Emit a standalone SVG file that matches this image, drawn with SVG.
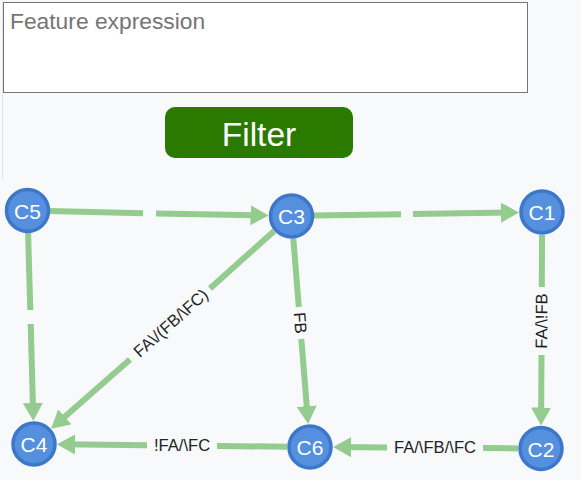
<svg xmlns="http://www.w3.org/2000/svg" width="581" height="480" viewBox="0 0 581 480">
<style>
.bg{fill:#f8f9fb}
.edge{stroke:#94cb8f;stroke-width:6;fill:none;stroke-linecap:butt}
.lbl{font-family:"Liberation Sans",Arial,sans-serif;font-size:16.6px;fill:#222;text-anchor:middle;dominant-baseline:central}
.node circle{fill:#5590df;stroke:#3c77ca;stroke-width:3.5}
.node text{font-family:"Liberation Sans",Arial,sans-serif;font-size:21px;fill:#fff;text-anchor:middle;dominant-baseline:central}
</style>
<defs>
<marker id="arr" markerUnits="userSpaceOnUse" markerWidth="18" markerHeight="20" refX="12" refY="10" orient="auto" viewBox="0 0 18 20">
<path d="M0,0 L18,10 L0,20 z" fill="#94cb8f"/>
</marker>
</defs>
<rect class="bg" x="0" y="0" width="581" height="480"/>
<line x1="2.5" y1="0" x2="2.5" y2="180" stroke="#e3e4e6" stroke-width="1"/>
<g id="input">
<rect x="3.5" y="2.5" width="524" height="90" fill="#fff" stroke="#767676" stroke-width="1"/>
<text x="10" y="29" font-family="Liberation Sans,Arial,sans-serif" font-size="22.8" fill="#757575">Feature expression</text>
</g>
<g id="filter-button">
<rect x="165" y="107" width="188" height="51" rx="10" fill="#2b7a00"/>
<text x="259" y="146" font-family="Liberation Sans,Arial,sans-serif" font-size="33.5" fill="#fff" text-anchor="middle">Filter</text>
</g>
<g id="connectors">
<line class="edge" x1="50" y1="211" x2="143" y2="213.3"/>
<line class="edge" x1="156" y1="213.6" x2="262.5" y2="215.4" marker-end="url(#arr)"/>
<line class="edge" x1="314" y1="215.6" x2="401" y2="214.3"/>
<line class="edge" x1="413" y1="214.1" x2="513" y2="212.5" marker-end="url(#arr)"/>
<line class="edge" x1="28.1" y1="233" x2="30.3" y2="310"/>
<line class="edge" x1="30.7" y1="324" x2="33.2" y2="415" marker-end="url(#arr)"/>
<line class="edge" x1="274.2" y1="230.9" x2="210" y2="288.4"/>
<line class="edge" x1="130" y1="359.4" x2="55.7" y2="424.8" marker-end="url(#arr)"/>
<text class="lbl" x="171" y="323.2" transform="rotate(-41.6 171 323.2)">FA\/(FB/\FC)</text>
<line class="edge" x1="293.3" y1="238.4" x2="298.8" y2="307"/>
<line class="edge" x1="301.3" y1="339" x2="307.7" y2="418.1" marker-end="url(#arr)"/>
<text class="lbl" x="300" y="323" transform="rotate(85.4 300 323)">FB</text>
<line class="edge" x1="542" y1="235" x2="541.8" y2="287"/>
<line class="edge" x1="541.5" y1="355" x2="541.1" y2="419.5" marker-end="url(#arr)"/>
<text class="lbl" x="541.7" y="321" transform="rotate(-89.8 541.7 321)">FA/\!FB</text>
<line class="edge" x1="518" y1="448.4" x2="483" y2="448.1"/>
<line class="edge" x1="387" y1="447.5" x2="339" y2="447.1" marker-end="url(#arr)"/>
<text class="lbl" x="435" y="447.8">FA/\FB/\FC</text>
<line class="edge" x1="287" y1="446.7" x2="217" y2="446"/>
<line class="edge" x1="147" y1="445.2" x2="63" y2="444.3" marker-end="url(#arr)"/>
<text class="lbl" x="182" y="445.6">!FA/\FC</text>
</g>
<g id="C5" class="node"><circle cx="27.5" cy="210.5" r="21"/><text x="27.5" y="211">C5</text></g>
<g id="C3" class="node"><circle cx="291.5" cy="216" r="21"/><text x="291.5" y="216.5">C3</text></g>
<g id="C1" class="node"><circle cx="542" cy="212" r="21"/><text x="542" y="212.5">C1</text></g>
<g id="C4" class="node"><circle cx="34" cy="444" r="21"/><text x="34" y="444.5">C4</text></g>
<g id="C6" class="node"><circle cx="310" cy="447" r="21"/><text x="310" y="447.5">C6</text></g>
<g id="C2" class="node"><circle cx="541" cy="448.5" r="21"/><text x="541" y="449">C2</text></g>
</svg>
